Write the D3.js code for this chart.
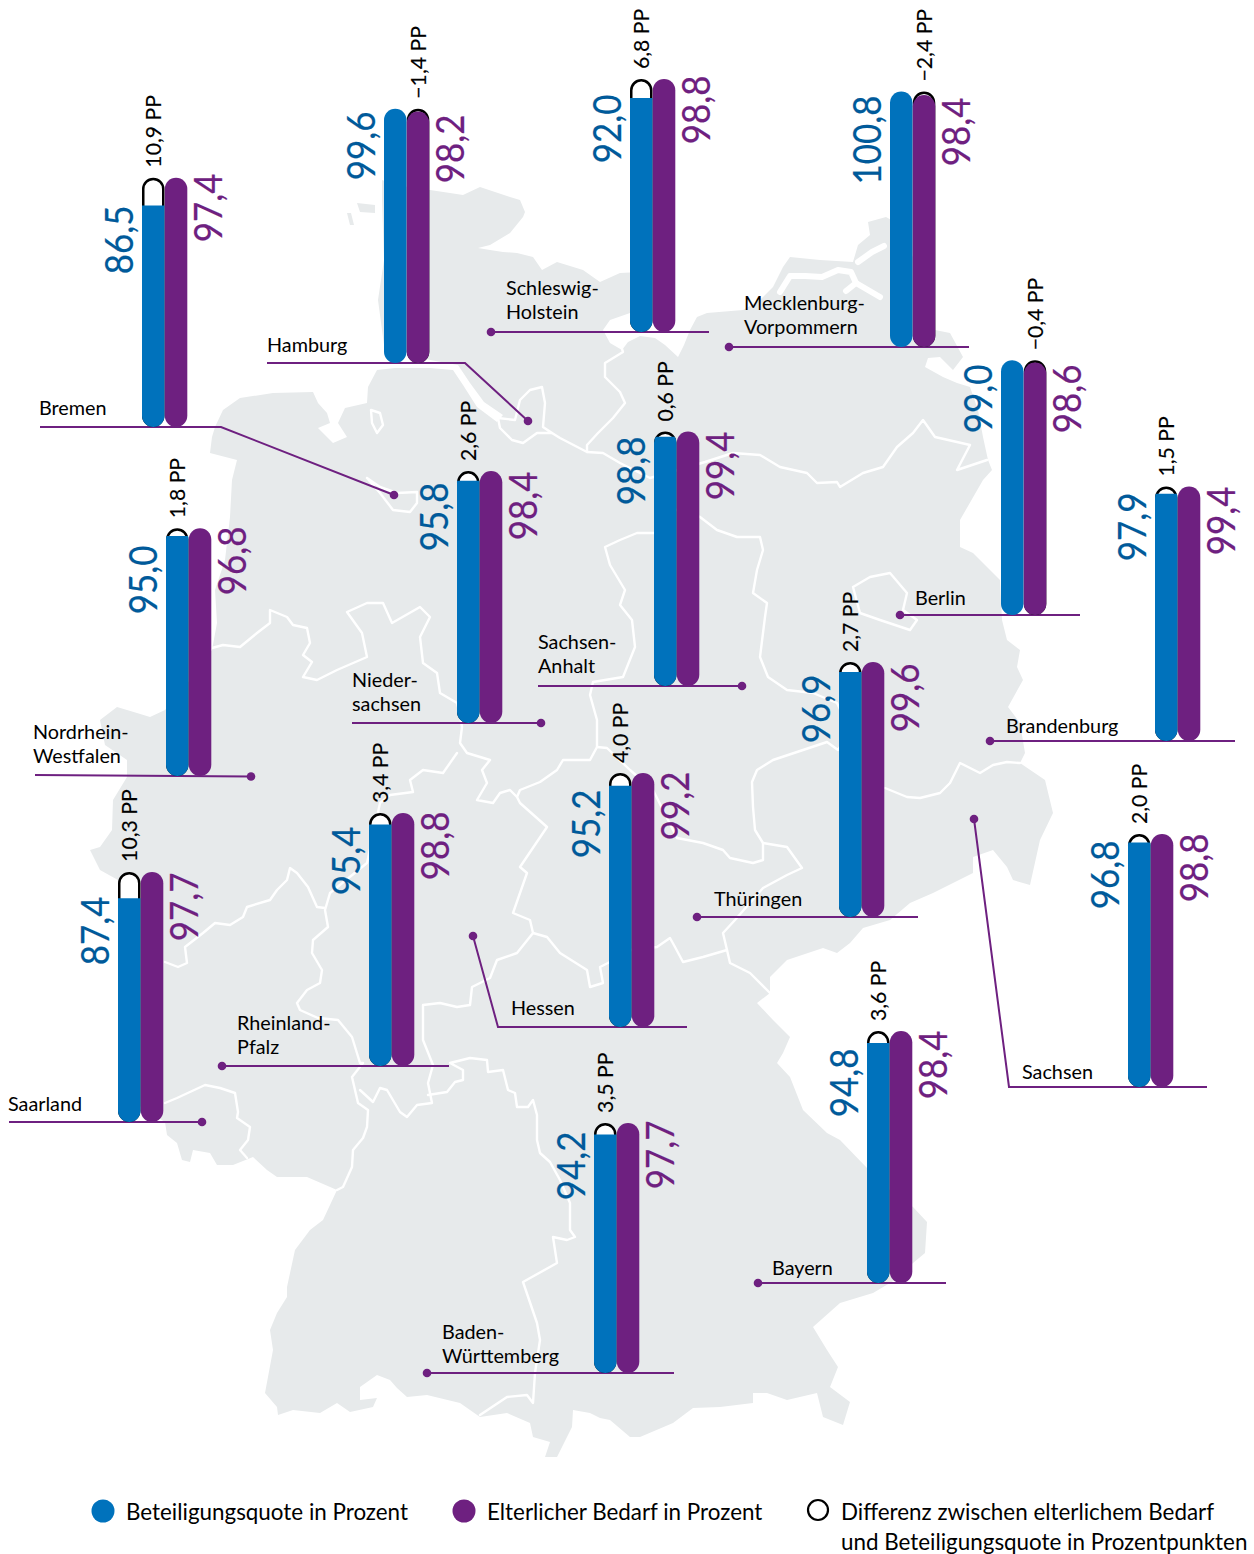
<!DOCTYPE html>
<html lang="de"><head><meta charset="utf-8"><title>Beteiligungsquote</title>
<script src="https://cdn.jsdelivr.net/npm/d3@7"></script>
<style>html,body{margin:0;padding:0;background:#fff}svg{display:block}text{font-family:Lato,'Noto Sans',sans-serif}</style>
</head><body><div id="chart"></div>
<script>
// ---------- data ----------
const states = ["Bremen","Hamburg","Schleswig-Holstein","Mecklenburg-Vorpommern","Berlin","Brandenburg","Sachsen","Thüringen","Sachsen-Anhalt","Niedersachsen","Nordrhein-Westfalen","Saarland","Rheinland-Pfalz","Hessen","Baden-Württemberg","Bayern"];
const beteiligung = [86.5,99.6,92.0,100.8,99.0,97.9,96.8,96.9,98.8,95.8,95.0,87.4,95.4,95.2,94.2,94.8];
const bedarf = [97.4,98.2,98.8,98.4,98.6,99.4,98.8,99.6,99.4,98.4,96.8,97.7,98.8,99.2,97.7,98.4];
const differenz = [10.9,-1.4,6.8,-2.4,-0.4,1.5,2.0,2.7,0.6,2.6,1.8,10.3,3.4,4.0,3.5,3.6];
const nameLines = [["Bremen"],["Hamburg"],["Schleswig-","Holstein"],["Mecklenburg-","Vorpommern"],["Berlin"],["Brandenburg"],["Sachsen"],["Thüringen"],["Sachsen-","Anhalt"],["Nieder-","sachsen"],["Nordrhein-","Westfalen"],["Saarland"],["Rheinland-","Pfalz"],["Hessen"],["Baden-","Württemberg"],["Bayern"]];
const legendLabels = ["Beteiligungsquote in Prozent","Elterlicher Bedarf in Prozent","Differenz zwischen elterlichem Bedarf","und Beteiligungsquote in Prozentpunkten"];

// ---------- layout (page positions, not data) ----------
const barX  = [142,384,630,890,1001,1155,1128,839,654,457,166,118,369,609,594,867];
const barY  = [427,363,332,347,615,741,1087,917,686,723,776,1122,1066,1027,1373,1283];
const blueLabelEnd = [207,113,96,97,366,494,842,676,438,484,547,898,828,791,1133,1050];
const purpleLabelEnd = [175,116,77,99,366,488,835,665,433,473,528,874,813,773,1122,1032];
const labelPos = [[39,415],[267,352],[506,295],[744,310],[915,605],[1006,733],[1022,1079],[714,906],[538,649],[352,687],[33,739],[8,1111],[237,1030],[511,1015],[442,1339],[772,1275]];
const leaders = [
 [[394,495],[221,427],[40,427]],[[528,421],[465,363],[267,363]],[[491,332],[709,332]],[[729,347],[969,347]],
 [[900,615],[1080,615]],[[990,741],[1235,741]],[[974,819],[1009,1087],[1207,1087]],[[697,917],[918,917]],
 [[742,686],[538,686]],[[541,723],[352,723]],[[251,776.5],[35,775]],[[202,1122],[9,1122]],
 [[222,1066],[449,1066]],[[473,936],[498,1027],[687,1027]],[[427,1373],[674,1373]],[[758,1283],[946,1283]]];

const germany = [[382,180],[395,185],[430,190],[450,193],[463,195],[480,187],[510,197],[520,200],[525,212],[523,217],[510,233],[490,245],[478,248],[490,250],[503,252],[517,253],[533,257],[542,270],[557,262],[583,270],[600,282],[620,273],[640,272],[650,300],[630,313],[610,320],[603,330],[610,343],[622,350],[628,342],[640,336],[655,338],[665,345],[678,357],[684,345],[690,330],[697,317],[707,313],[743,310],[760,300],[773,287],[783,267],[790,257],[820,260],[853,262],[858,245],[870,235],[868,222],[886,217],[900,225],[930,300],[935,330],[950,333],[963,357],[953,370],[940,357],[928,358],[925,367],[943,377],[957,383],[970,387],[978,410],[983,437],[988,460],[992,470],[983,480],[960,520],[960,547],[973,553],[1000,580],[1002,620],[1007,640],[1020,650],[1017,667],[1023,680],[1008,707],[1020,723],[1025,753],[1020,763],[1045,780],[1053,813],[1040,840],[1030,885],[1013,880],[1007,867],[993,850],[973,857],[973,873],[933,893],[910,903],[890,920],[863,928],[850,943],[837,953],[823,948],[787,960],[770,977],[770,993],[757,1003],[773,1020],[790,1037],[783,1053],[777,1063],[790,1077],[803,1110],[827,1133],[840,1140],[867,1168],[890,1190],[913,1207],[927,1222],[925,1253],[913,1263],[895,1280],[873,1293],[840,1303],[813,1327],[827,1350],[838,1367],[830,1387],[850,1402],[843,1425],[823,1417],[817,1393],[787,1400],[767,1393],[753,1393],[753,1403],[720,1407],[693,1408],[673,1423],[640,1437],[630,1437],[610,1420],[600,1418],[590,1413],[573,1410],[572,1427],[563,1445],[557,1457],[545,1457],[550,1442],[533,1437],[530,1423],[507,1413],[480,1417],[460,1403],[427,1395],[407,1397],[397,1388],[390,1380],[377,1375],[360,1387],[360,1400],[377,1398],[373,1407],[350,1412],[337,1403],[320,1413],[293,1410],[278,1415],[277,1407],[265,1393],[273,1350],[270,1330],[277,1313],[287,1297],[287,1287],[295,1250],[310,1230],[323,1220],[337,1190],[307,1177],[277,1177],[267,1170],[253,1157],[233,1165],[217,1165],[210,1153],[193,1150],[190,1162],[182,1160],[177,1143],[167,1135],[165,1122],[130,1100],[118,1040],[120,960],[118,880],[100,870],[90,850],[100,847],[112,830],[113,800],[127,777],[127,760],[105,745],[100,720],[117,707],[137,713],[150,717],[165,710],[190,680],[212,650],[217,623],[215,590],[225,560],[230,517],[232,480],[237,460],[210,453],[212,437],[215,427],[223,410],[240,398],[273,393],[313,392],[318,403],[327,413],[330,423],[318,428],[333,443],[347,437],[338,423],[345,408],[367,403],[368,387],[377,370],[395,368],[430,368],[453,370],[463,385],[477,407],[497,422],[503,415],[484,402],[470,383],[458,365],[430,360],[384,345],[378,300],[384,260],[382,200]];
const islands = [[[357,203],[375,205],[375,213],[360,212]],[[347,213],[351,213],[354,225],[350,225]]];
const stateBorders = [
 [[498,418],[500,428],[512,440],[523,443],[537,433],[552,433],[543,427],[545,403],[542,387],[530,390],[520,400],[515,420],[498,418]],
 [[552,433],[560,438],[587,452],[603,453],[620,463],[650,478],[705,462],[733,453],[760,455],[780,467],[807,473],[817,483],[837,482],[840,487],[863,473],[883,467],[897,447],[913,433],[923,420],[935,437],[957,442],[970,445],[957,470],[987,460]],
 [[587,452],[587,445],[598,433],[613,418],[625,403],[620,392],[605,377],[605,363],[623,352],[620,343]],
 [[660,505],[700,517],[717,530],[737,537],[760,537],[763,550],[757,570],[753,593],[767,603],[765,617],[760,657],[768,677],[787,690],[813,693],[837,703],[850,730],[838,750],[827,742],[803,750],[773,760],[757,770],[752,782],[753,807],[755,830],[763,843],[787,847],[802,868],[787,875],[763,888],[735,920],[723,933],[727,950],[730,963],[750,973],[770,993]],
 [[660,533],[637,533],[620,540],[605,547],[610,565],[625,590],[620,605],[632,620],[635,647],[623,677],[593,682],[590,695],[597,720],[597,747],[590,760],[573,760],[563,760],[557,770],[540,782],[520,790],[517,797],[510,790],[500,793],[493,803],[477,800],[487,783],[482,770],[490,760],[467,753],[460,743],[462,727],[460,715],[457,703],[440,693],[437,673],[423,663],[420,637],[430,617],[420,607],[392,623],[383,603],[367,603],[347,612],[362,633],[367,657],[337,670],[317,680],[303,677],[312,662],[303,655],[310,643],[307,628],[293,625],[287,617],[270,610],[270,623],[257,633],[240,647],[223,645],[212,648]],
 [[597,747],[607,748],[630,770],[653,790],[677,838],[703,843],[723,850],[730,858],[753,863],[763,860],[763,843]],
 [[457,753],[443,773],[423,770],[410,780],[413,792],[390,795],[380,803],[367,863],[330,893],[325,910],[328,927],[313,940],[312,953],[322,970],[320,983],[307,990],[297,1003],[300,1010],[318,1018],[338,1020],[352,1037],[360,1063],[363,1063],[352,1077],[358,1103],[368,1110],[367,1127],[363,1138],[353,1150],[352,1167],[343,1187],[337,1190]],
 [[325,908],[317,907],[308,887],[297,873],[290,868],[287,880],[277,890],[270,900],[247,907],[243,917],[230,925],[215,923],[203,933],[185,947],[187,963],[178,967],[165,962]],
 [[360,1090],[373,1102],[380,1088],[387,1090],[400,1112],[407,1117],[417,1105],[432,1103],[428,1083],[433,1065],[423,1040],[423,1005],[440,1003],[457,1007],[470,1005],[472,987],[490,978],[497,960],[517,953],[533,933],[530,920],[513,913],[527,873],[520,867],[547,827],[520,803],[517,797]],
 [[533,933],[547,937],[560,953],[587,970],[590,987],[603,983],[600,967],[608,963],[631,950],[657,947],[670,938],[675,947],[683,962],[703,957],[727,950]],
 [[428,1095],[447,1092],[455,1082],[463,1080],[463,1070],[450,1063],[470,1058],[487,1060],[488,1072],[503,1070],[508,1090],[515,1093],[517,1107],[528,1107],[533,1100],[537,1115],[537,1140],[540,1153],[550,1162],[560,1180],[570,1203],[570,1230],[575,1237],[567,1240],[553,1237],[557,1263],[523,1282],[537,1323],[540,1340],[535,1373],[533,1403],[527,1395],[507,1397],[480,1415]],
 [[165,1103],[177,1098],[205,1085],[220,1088],[235,1093],[238,1112],[237,1118],[250,1127],[248,1140],[240,1150],[247,1158]],
 [[885,788],[907,797],[920,798],[940,793],[950,783],[960,763],[980,773],[993,765],[1007,762],[1020,763]],
 [[853,587],[870,577],[890,573],[907,593],[903,610],[917,620],[910,630],[880,620],[860,613],[853,587]],
 [[367,478],[380,487],[397,493],[417,492],[417,503],[410,512],[393,510],[380,493],[367,478]],
 [[371,410],[380,413],[383,425],[377,433],[372,423],[371,410]]
];
const lagoons = [[[780,292],[790,276],[805,276],[822,277],[838,270],[851,272],[856,283],[846,291]],[[856,283],[880,297]],[[858,262],[872,252],[884,246]]];

// ---------- scales ----------
const W = 1254, H = 1554;
const colW = 22.5;
const heightScale = d3.scaleLinear().domain([0,100]).range([0,256]);          // purple column height
const gapPos = d3.scaleLinear().domain([0,11]).range([4,28]);                 // visible gap for the difference
const gapNeg = d3.scaleLinear().domain([0,3]).range([2,4]);
const BLUE="#0072BC", BLUET="#005A9A", PURPLE="#6E2080", GREY="#E7EAEB";

const svg = d3.select("#chart").append("svg").attr("width",W).attr("height",H).attr("viewBox",[0,0,W,H]);
const line = d3.line();

// map
svg.append("path").attr("d",line(germany)+"Z").attr("fill",GREY);
svg.selectAll(".isl").data(islands).join("path").attr("d",d=>line(d)+"Z").attr("fill",GREY);
svg.selectAll(".lag").data(lagoons).join("path").attr("d",d=>line(d)).attr("fill","none").attr("stroke","#fff").attr("stroke-width",6).attr("stroke-linejoin","round").attr("stroke-linecap","round");
svg.selectAll(".brd").data(stateBorders).join("path").attr("d",d=>line(d)).attr("fill","none").attr("stroke","#fff").attr("stroke-width",2.4).attr("stroke-linejoin","round").attr("stroke-linecap","round");

// leaders
svg.selectAll(".lead").data(leaders).join("path").attr("d",d=>line(d)).attr("fill","none").attr("stroke",PURPLE).attr("stroke-width",2);
svg.selectAll(".dot").data(leaders).join("circle").attr("cx",d=>d[0][0]).attr("cy",d=>d[0][1]).attr("r",4.3).attr("fill",PURPLE);

// names
nameLines.forEach((ls,i)=>{
  ls.forEach((t,j)=>svg.append("text").attr("x",labelPos[i][0]).attr("y",labelPos[i][1]+j*24).attr("font-size",19.8).attr("fill","#000").text(t));
});

// bars
const fmt = v => v.toFixed(1).replace(".",",");
const fmtD = v => (v<0?"\u2212":"")+Math.abs(v).toFixed(1).replace(".",",")+" PP";
states.forEach((s,i)=>{
  const x=barX[i], base=barY[i], xP=x+colW+0.3, d=differenz[i];
  const topP = base-heightScale(bedarf[i]);
  const pos = d>=0;
  const topB = pos ? topP+gapPos(d) : topP-gapNeg(-d);
  const g = svg.append("g");
  const capTop = Math.min(topP,topB);
  const capX = pos ? x : xP;
  const full = (sel,cx,top,fill)=>sel.append("rect").attr("x",cx).attr("y",top).attr("width",colW).attr("height",base-top).attr("rx",colW/2).attr("fill",fill);
  // difference capsule
  g.append("rect").attr("x",capX+1.25).attr("y",capTop+1.25).attr("width",colW-2.5).attr("height",base-capTop-2.5).attr("rx",colW/2-1.25).attr("fill","#fff").attr("stroke","#000").attr("stroke-width",2.5);
  const cid="c"+i;
  g.append("clipPath").attr("id",cid).append("rect").attr("x",x-2).attr("y",pos?topB:capTop).attr("width",colW*2+4).attr("height",base-capTop+2);
  if(pos){
    full(g,x,capTop,BLUE).attr("clip-path",`url(#${cid})`);
    full(g,xP,topP,PURPLE);
  }else{
    full(g,x,topB,BLUE);
    full(g,xP,topP,PURPLE);
  }
  const rot=(tx,ty,txt,fs,fill,anchor,sx,sw)=>g.append("text").attr("transform",`translate(${tx},${ty}) rotate(-90) scale(${sx},1)`).attr("font-size",fs).attr("fill",fill).attr("stroke",fill).attr("stroke-width",sw).attr("text-anchor",anchor).text(txt);
  rot(x-9,blueLabelEnd[i]-1.5,fmt(beteiligung[i]),38,BLUET,"end",0.92,0.2);
  rot(xP+colW+35,purpleLabelEnd[i]-1.5,fmt(bedarf[i]),38,PURPLE,"end",0.92,0.2);
  rot(capX+19,capTop-10,fmtD(d),21,"#000","start",1.01,0.15);
});

// legend
svg.append("circle").attr("cx",103).attr("cy",1511).attr("r",11.5).attr("fill",BLUE);
svg.append("circle").attr("cx",464).attr("cy",1511).attr("r",11.5).attr("fill",PURPLE);
svg.append("circle").attr("cx",818).attr("cy",1510).attr("r",10).attr("fill","#fff").attr("stroke","#000").attr("stroke-width",2.2);
[[126,1520],[487,1520],[841,1520],[841,1550]].forEach((p,i)=>svg.append("text").attr("x",p[0]).attr("y",p[1]).attr("font-size",22.4).attr("fill","#000").text(legendLabels[i]));
</script></body></html>
